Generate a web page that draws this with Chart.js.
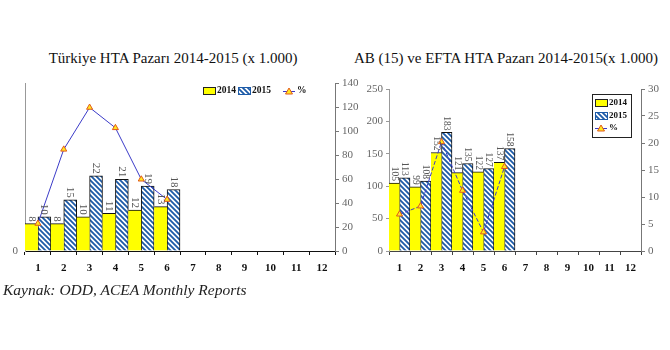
<!DOCTYPE html>
<html lang="tr">
<head>
<meta charset="UTF-8">
<title>HTA Pazarı 2014-2015</title>
<script src="https://cdn.jsdelivr.net/npm/chart.js"></script>
<style>
    body {
        margin: 0;
        padding: 0;
        background: #fff;
        width: 670px;
        height: 350px;
        position: relative;
        overflow: hidden;
        font-family: 'Liberation Serif', 'Times New Roman', serif;
    }
    .title {
        position: absolute;
        top: 49px;
        font-size: 15px;
        line-height: 18px;
        text-align: center;
        white-space: nowrap;
        color: #111;
    }
    .box {
        position: absolute;
        top: 70px;
        height: 215px;
    }
    .source {
        position: absolute;
        left: 3px;
        top: 281px;
        font-size: 15.5px;
        font-style: italic;
        color: #222;
        white-space: nowrap;
    }
</style>
</head>
<body>
    <div class="title" style="left:0; width:346px;">Türkiye HTA Pazarı 2014-2015 (x 1.000)</div>
    <div class="title" style="left:336px; width:340px;">AB (15) ve EFTA HTA Pazarı 2014-2015(x 1.000)</div>

    <div class="box" style="left:0; width:365px;"><canvas id="trChart" width="365" height="215"></canvas></div>
    <div class="box" style="left:340px; width:330px;"><canvas id="euChart" width="330" height="215"></canvas></div>

    <div class="source">Kaynak: ODD, ACEA Monthly Reports</div>

<script>
    // months
    const months = ['1', '2', '3', '4', '5', '6', '7', '8', '9', '10', '11', '12'];

    // Türkiye (x 1.000)
    const trSales2014 = [8, 8, 10, 11, 12, 13];
    const trSales2015 = [10, 15, 22, 21, 19, 18];
    const trChange = [23, 85, 120, 103, 60, 43];

    // AB (15) + EFTA (x 1.000)
    const euSales2014 = [105, 99, 152, 121, 122, 137];
    const euSales2015 = [113, 108, 183, 135, 127, 158];
    const euChange = [6.8, 8.3, 20.2, 11.2, 3.5, 15.6];

    // axis ranges
    const trBarMax = 49;
    const trPctTicks = [0, 20, 40, 60, 80, 100, 120, 140];
    const euBarTicks = [0, 50, 100, 150, 200, 250];
    const euPctTicks = [0, 5, 10, 15, 20, 25, 30];

    const YELLOW = '#ffff00';
    const HATCH_BLUE = '#1d5ba8';
    const LINE_BLUE = '#3b3bc8';
    const SERIF = "'Liberation Serif', 'Times New Roman', serif";

    function hatchPattern(ctx) {
        const c = document.createElement('canvas');
        c.width = 5;
        c.height = 5;
        const g = c.getContext('2d');
        g.fillStyle = '#fff';
        g.fillRect(0, 0, 5, 5);
        g.strokeStyle = HATCH_BLUE;
        g.lineWidth = 1.8;
        g.beginPath();
        g.moveTo(-1, -1); g.lineTo(6, 6);
        g.moveTo(4, -1); g.lineTo(6, 1);
        g.moveTo(-1, 4); g.lineTo(1, 6);
        g.stroke();
        return ctx.createPattern(c, 'repeat');
    }

    // rotated value labels above the bars
    const barLabels = {
        id: 'barLabels',
        afterDatasetsDraw(chart, args, opts) {
            const ctx = chart.ctx;
            ctx.save();
            ctx.font = opts.size + 'px ' + SERIF;
            ctx.fillStyle = '#555';
            ctx.textAlign = 'right';
            ctx.textBaseline = 'middle';
            chart.data.datasets.forEach((ds, i) => {
                if (ds.type === 'line') return;
                chart.getDatasetMeta(i).data.forEach((bar, j) => {
                    if (ds.data[j] == null) return;
                    ctx.save();
                    ctx.translate(bar.x, bar.y - 2);
                    ctx.rotate(Math.PI / 2);
                    ctx.fillText(String(ds.data[j]), 0, 0);
                    ctx.restore();
                });
            });
            ctx.restore();
        }
    };

    // legend drawn by hand (inside the plot)
    const handLegend = {
        id: 'handLegend',
        afterDraw(chart, args, opts) {
            const ctx = chart.ctx;
            const pat = chart.data.datasets[1].backgroundColor;
            ctx.save();
            if (opts.frame) {
                const f = opts.frame;
                ctx.fillStyle = '#fff';
                ctx.fillRect(f[0], f[1], f[2], f[3]);
                ctx.strokeStyle = '#222';
                ctx.lineWidth = 1;
                ctx.strokeRect(f[0] + 0.5, f[1] + 0.5, f[2], f[3]);
            }
            ctx.font = 'bold ' + opts.size + 'px ' + SERIF;
            ctx.textBaseline = 'middle';
            ctx.textAlign = 'left';
            opts.items.forEach(it => {
                const [kind, x, y, text] = it;
                if (kind === 'bar14') {
                    ctx.fillStyle = YELLOW;
                    ctx.fillRect(x, y - 4, 12, 7);
                    ctx.strokeStyle = '#222';
                    ctx.strokeRect(x + 0.5, y - 3.5, 12, 7);
                } else if (kind === 'bar15') {
                    ctx.fillStyle = pat;
                    ctx.fillRect(x, y - 4, 12, 7);
                    ctx.strokeStyle = HATCH_BLUE;
                    ctx.strokeRect(x + 0.5, y - 3.5, 12, 7);
                } else {
                    ctx.strokeStyle = opts.lineColor;
                    ctx.lineWidth = 1;
                    ctx.beginPath();
                    ctx.moveTo(x, y + 0.5);
                    ctx.lineTo(x + 12, y + 0.5);
                    ctx.stroke();
                    ctx.fillStyle = '#ffe820';
                    ctx.strokeStyle = '#e25a1a';
                    ctx.beginPath();
                    ctx.moveTo(x + 6, y - 3);
                    ctx.lineTo(x + 9.5, y + 3);
                    ctx.lineTo(x + 2.5, y + 3);
                    ctx.closePath();
                    ctx.fill();
                    ctx.stroke();
                }
                ctx.fillStyle = '#111';
                ctx.fillText(text, x + 14, y);
            });
            ctx.restore();
        }
    };

    function makeChart(id, c) {
        const ctx = document.getElementById(id).getContext('2d');
        const pattern = hatchPattern(ctx);
        const tickFont = { family: SERIF, size: 11 };
        return new Chart(ctx, {
            type: 'bar',
            data: {
                labels: months,
                datasets: [
                    {
                        label: '2014',
                        data: c.a,
                        backgroundColor: YELLOW,
                        borderColor: '#111',
                        borderWidth: { top: 1, left: 0, right: 0, bottom: 0 },
                        borderSkipped: false,
                        categoryPercentage: 1,
                        barPercentage: 1,
                        yAxisID: 'y',
                        order: 2
                    },
                    {
                        label: '2015',
                        data: c.b,
                        backgroundColor: pattern,
                        borderColor: '#111',
                        borderWidth: { top: 1, left: 1, right: 1, bottom: 0 },
                        borderSkipped: false,
                        categoryPercentage: 1,
                        barPercentage: 1,
                        yAxisID: 'y',
                        order: 2
                    },
                    {
                        type: 'line',
                        label: '%',
                        data: c.pct,
                        borderColor: c.lineColor,
                        borderWidth: 1,
                        borderDash: c.dash,
                        pointStyle: 'triangle',
                        pointRadius: 3.5,
                        pointBackgroundColor: '#ffe820',
                        pointBorderColor: '#e25a1a',
                        pointBorderWidth: 1,
                        tension: 0,
                        yAxisID: 'y1',
                        order: 1
                    }
                ]
            },
            options: {
                responsive: false,
                animation: false,
                layout: { padding: { top: c.padTop, left: 0, right: 0, bottom: 0 } },
                plugins: {
                    legend: { display: false },
                    tooltip: { enabled: false },
                    barLabels: { size: c.labelSize },
                    handLegend: { items: c.legend, frame: c.frame, size: c.legendSize, lineColor: c.lineColor }
                },
                scales: {
                    x: {
                        offset: true,
                        grid: { display: true, drawOnChartArea: false, offset: true, tickLength: 4, color: c.xColor },
                        border: { display: true, color: c.xColor },
                        ticks: { color: '#111', font: { family: SERIF, size: 11, weight: 'bold' }, padding: 7, maxRotation: 0, autoSkip: false },
                        afterFit: s => { s.height = c.xHeight; }
                    },
                    y: {
                        position: 'left',
                        min: 0,
                        max: c.barMax,
                        grid: { display: true, drawOnChartArea: false, drawTicks: c.barTicks != null, tickLength: 3, color: '#999' },
                        border: { display: true, color: '#999' },
                        ticks: { color: '#666', font: tickFont, padding: c.barTicks ? 3 : 7 },
                        afterBuildTicks: s => { s.ticks = (c.barTicks || [0]).map(v => ({ value: v })); },
                        afterFit: s => { s.width = c.leftW; }
                    },
                    y1: {
                        position: 'right',
                        min: 0,
                        max: c.pctTicks[c.pctTicks.length - 1],
                        grid: { display: true, drawOnChartArea: false, tickLength: 4, color: '#777' },
                        border: { display: true, color: '#777' },
                        ticks: { color: '#666', font: tickFont, padding: 3 },
                        afterBuildTicks: s => { s.ticks = c.pctTicks.map(v => ({ value: v })); },
                        afterFit: s => { s.width = c.rightW; }
                    }
                }
            },
            plugins: [barLabels, handLegend]
        });
    }

    makeChart('trChart', {
        a: trSales2014,
        b: trSales2015,
        pct: trChange,
        barMax: trBarMax,
        barTicks: null,
        pctTicks: trPctTicks,
        lineColor: LINE_BLUE,
        dash: [],
        padTop: 9,
        leftW: 25,
        rightW: 30,
        xHeight: 34,
        xColor: '#111',
        labelSize: 11,
        legendSize: 9.5,
        frame: null,
        legend: [
            ['bar14', 203, 21, '2014'],
            ['bar15', 238, 21, '2015'],
            ['pct', 283, 21, '%']
        ]
    });

    makeChart('euChart', {
        a: euSales2014,
        b: euSales2015,
        pct: euChange,
        barMax: euBarTicks[euBarTicks.length - 1],
        barTicks: euBarTicks,
        pctTicks: euPctTicks,
        lineColor: LINE_BLUE,
        dash: [4, 2],
        padTop: 19,
        leftW: 49,
        rightW: 29,
        xHeight: 34,
        xColor: '#444',
        labelSize: 9.5,
        legendSize: 9,
        frame: [252, 24, 39, 43],
        legend: [
            ['bar14', 255, 33, '2014'],
            ['bar15', 255, 46, '2015'],
            ['pct', 255, 58, '%']
        ]
    });
</script>
</body>
</html>
